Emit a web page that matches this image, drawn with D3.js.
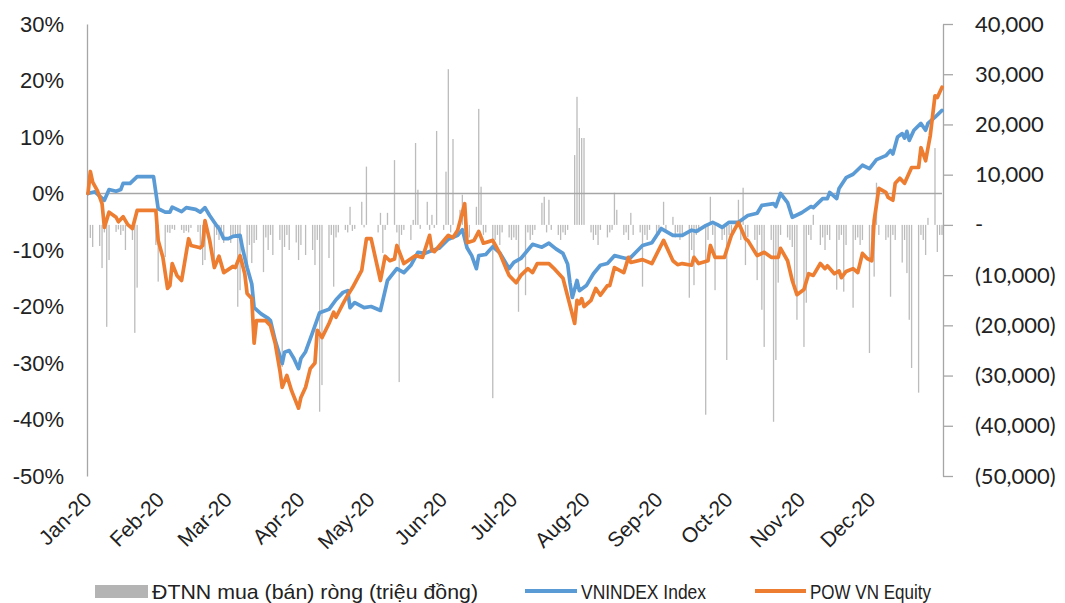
<!DOCTYPE html>
<html><head><meta charset="utf-8">
<script src="https://cdn.jsdelivr.net/npm/d3@7"></script>
<style>body{margin:0;background:#fff}svg{display:block}</style>
</head><body><svg id="c" width="1065" height="603"></svg>
<script>
// ---------------- DATA ----------------
const leftTicks = [-50,-40,-30,-20,-10,0,10,20,30];            // %
const rightTicks = [-50000,-40000,-30000,-20000,-10000,0,10000,20000,30000,40000];
const monthLabels = ["Jan-20","Feb-20","Mar-20","Apr-20","May-20","Jun-20","Jul-20","Aug-20","Sep-20","Oct-20","Nov-20","Dec-20"];
const seriesNames = ["ĐTNN mua (bán) ròng (triệu đồng)","VNINDEX Index","POW VN Equity"];

// VNINDEX Index, % change since start of year
const vnDates = ["01-01","01-04","01-08","01-10","01-13","01-15","01-16","01-19","01-22","01-29","01-31",
 "02-03","02-05","02-06","02-10","02-12","02-16","02-18","02-20","02-22","02-25","02-26","02-28",
 "03-01","03-03","03-06","03-07","03-09","03-11","03-12","03-15","03-18","03-19","03-21","03-24","03-25","03-27","03-29","03-31",
 "04-01","04-03","04-06","04-09","04-13","04-16","04-19","04-21","04-22","04-24","04-28",
 "05-01","05-05","05-08","05-12","05-15","05-18","05-21","05-24","05-27","05-30",
 "06-03","06-07","06-09","06-11","06-13","06-15","06-16","06-19","06-22","06-25","06-29",
 "07-01","07-04","07-09","07-13","07-16","07-19","07-22","07-24","07-25","07-26","07-28","07-29",
 "08-01","08-04","08-07","08-10","08-13","08-18","08-20","08-25","08-29",
 "09-02","09-07","09-11","09-15","09-17","09-21","09-24","09-26","09-28",
 "10-01","10-05","10-09","10-13","10-15","10-20","10-21","10-23","10-26","10-28",
 "11-01","11-05","11-06","11-10","11-12","11-13","11-16","11-17","11-20","11-23","11-27","11-30",
 "12-03","12-07","12-09","12-10","12-12","12-14","12-15","12-16","12-17","12-19","12-22","12-24","12-25","12-28","12-31"];
const vnValues = [0,0.3,-1.2,0.7,0.4,0.7,1.8,1.8,3.0,3.0,-2.7,
 -3.3,-3.3,-2.4,-3.2,-2.5,-2.8,-3.3,-2.5,-3.9,-5.7,-6.2,-8.0,
 -8.0,-7.6,-7.4,-9.6,-13.1,-16.0,-20.2,-21.3,-22.1,-22.5,-26.0,-30.1,-28.1,-27.8,-29.2,-31.0,
 -29.2,-28.0,-24.6,-21.1,-20.5,-18.8,-17.5,-17.2,-20.2,-19.3,-20.2,
 -20.0,-20.7,-15.4,-13.3,-14.0,-12.7,-10.4,-10.6,-10.1,-9.7,
 -8.1,-7.4,-6.4,-9.6,-11.0,-13.3,-11.0,-10.8,-9.4,-10.5,-13.3,
 -12.2,-11.5,-9.0,-9.5,-8.8,-9.8,-10.6,-12.5,-15.8,-18.4,-15.4,-17.2,
 -16.3,-14.2,-12.7,-12.4,-11.0,-11.5,-11.3,-9.2,-8.7,
 -6.2,-7.4,-7.4,-6.5,-6.7,-5.7,-5.1,-5.5,-6.0,
 -5.1,-5.1,-3.9,-3.5,-2.1,-1.8,-2.3,0.0,-1.6,-4.2,
 -3.4,-2.3,-2.5,-0.9,-0.9,0.2,-0.9,0.9,2.8,3.4,5.0,4.4,
 6.0,6.7,7.6,7.0,10.0,10.6,9.8,11.0,9.4,11.2,12.4,11.2,12.4,13.5,14.7];

// POW VN Equity, % change since start of year
const powDates = ["01-01","01-02","01-03","01-05","01-07","01-08","01-10","01-13","01-14","01-16","01-18","01-20","01-22","01-30","01-31",
 "02-02","02-04","02-05","02-06","02-08","02-10","02-13","02-14","02-18","02-19","02-20","02-22","02-24","02-26","02-28",
 "03-03","03-04","03-06","03-08","03-09","03-11","03-12","03-13","03-17","03-19","03-21","03-23","03-24","03-26","03-28","03-31",
 "04-01","04-03","04-05","04-07","04-08","04-10","04-13","04-15","04-16","04-19","04-21","04-23","04-27","04-29",
 "05-01","05-05","05-07","05-09","05-11","05-12","05-15","05-20","05-23","05-26","05-27","05-28",
 "06-03","06-05","06-07","06-10","06-11","06-14","06-16","06-18","06-22","06-25","06-28","06-29",
 "07-02","07-04","07-07","07-09","07-11","07-16","07-18","07-22","07-24","07-27","07-28","07-29","07-30","07-31",
 "08-03","08-05","08-07","08-10","08-11","08-13","08-17","08-19","08-20","08-25","08-29",
 "09-03","09-07","09-09","09-11","09-15","09-16","09-18","09-22","09-23","09-25","09-29","09-30",
 "10-02","10-05","10-08","10-09","10-13","10-16","10-19","10-22","10-23","10-26","10-28","10-30",
 "11-02","11-04","11-06","11-09","11-11","11-12","11-15","11-17","11-18","11-20","11-23","11-25","11-27","11-29",
 "12-01","12-02","12-04","12-07","12-08","12-10","12-11","12-13","12-15","12-18","12-21","12-22","12-24","12-26","12-28","12-29","12-31"];
const powValues = [0,3.9,2.0,0.5,-1.8,-6.0,-3.3,-4.2,-5.0,-4.1,-5.5,-6.2,-3.0,-3.0,-8.3,
 -11.3,-16.8,-16.3,-12.4,-14.5,-15.4,-8.0,-9.2,-9.6,-9.2,-4.8,-8.3,-13.1,-11.1,-14.0,
 -12.9,-13.1,-11.0,-14.2,-17.7,-18.6,-26.5,-22.5,-22.5,-23.4,-26.5,-31.3,-34.3,-32.2,-34.9,-38.0,
 -36.1,-34.3,-31.0,-30.0,-24.2,-25.5,-23.0,-21.0,-21.9,-19.5,-18.0,-16.7,-13.6,-8.0,
 -8.0,-15.4,-11.1,-11.9,-11.6,-9.2,-12.4,-11.0,-11.3,-7.4,-10.1,-10.3,
 -7.4,-7.8,-6.5,-1.8,-8.7,-8.3,-6.7,-8.8,-8.3,-10.6,-13.6,-14.5,
 -15.8,-14.5,-13.3,-14.0,-12.4,-12.4,-13.2,-15.0,-18.2,-23.0,-18.9,-19.5,-18.6,-20.0,
 -18.9,-16.8,-18.0,-16.3,-16.3,-13.1,-14.0,-11.3,-12.2,-11.7,-12.4,
 -8.3,-11.9,-12.6,-12.4,-12.7,-11.3,-12.4,-11.9,-9.2,-11.3,-11.3,-10.0,
 -7.4,-5.1,-8.0,-8.3,-11.0,-10.4,-11.3,-11.3,-9.7,-11.9,-15.4,-17.9,
 -17.0,-14.2,-14.5,-12.4,-13.3,-12.8,-14.2,-13.7,-14.9,-13.8,-13.3,-14.0,-10.6,-11.5,
 -11.9,-4.8,0.9,0.2,-0.7,-1.2,1.8,2.7,1.8,4.6,4.6,8.1,5.8,10.3,17.3,17.0,18.8];

// Foreign net buy (sell), million VND — trading days per month (day of month) and values
const flowDays = [
 [2,3,6,7,8,9,10,13,14,15,16,17,20,21,22,30,31],
 [3,4,5,6,7,10,11,12,13,14,17,18,19,20,21,24,25,26,27,28],
 [2,3,4,5,6,9,10,11,12,13,16,17,18,19,20,23,24,25,26,27,30,31],
 [1,3,6,7,8,9,10,13,14,15,16,17,20,21,22,23,24,27,28,29],
 [4,5,6,7,8,11,12,13,14,15,18,19,20,21,22,25,26,27,28,29],
 [1,2,3,4,5,8,9,10,11,12,15,16,17,18,19,22,23,24,25,26,29,30],
 [1,2,3,6,7,8,9,10,13,14,15,16,17,20,21,22,23,24,27,28,29,30,31],
 [3,4,5,6,7,10,11,12,13,14,17,18,19,20,21,24,25,26,27,28,31],
 [1,3,4,7,8,9,10,11,14,15,16,17,18,21,22,23,24,25,28,29,30],
 [1,2,5,6,7,8,9,12,13,14,15,16,19,20,21,22,23,26,27,28,29,30],
 [2,3,4,5,6,9,10,11,12,13,16,17,18,19,20,23,24,25,26,27,30],
 [1,2,3,4,7,8,9,10,11,14,15,16,17,18,21,22,23,24,25,28,29,30,31]];
const flowValues = [
 [-2600,-4400,-4200,-8600,-1500,-20300,-7000,-1400,-900,-2000,-1200,-5000,-3000,-21500,-12500,-4000,-11300],
 [-6400,-1500,-1600,-800,-1000,-1000,-1600,-1200,-1500,-600,-1400,-5000,-8000,-7000,-1500,-8400,-2000,-3000,-1000,-3600],
 [-3600,-2000,-2500,-16300,-13000,-9000,-4000,-7600,-3600,-3000,-9400,-2500,-5000,-2000,-6000,-3000,-28300,-4400,-2000,-5000,-3500,-7000],
 [-4000,-6000,-5000,-8000,-3000,-37200,-31900,-6600,-2000,-12300,-2500,-1500,-1000,-1500,3600,-1200,-800,4600,-500,11600],
 [-1500,2400,-5600,-1000,2400,12900,-1500,-31300,-2000,-1000,-3000,1000,16300,7000,-800,4600,-1000,2000,-600,18700],
 [-1000,10600,31000,-1500,17100,3000,6000,-1200,-2000,-2500,3600,23100,7600,-2000,-1500,-34500,-3000,-2000,-4000,-1500,-2500,-3000],
 [-2500,-3000,-17300,-14000,-1500,-3000,-2000,-1000,4400,5600,-1500,5000,-1000,-2000,-3000,-1500,-2000,-1000,13900,25500,19300,17300,17300],
 [-1500,-3000,-2000,-4000,-1000,-2500,-1500,-1000,6400,3000,-2000,-1500,-3000,2400,-2000,-1500,-12300,-2000,-3000,-1000,-2500],
 [-2000,4600,-1500,1600,-2500,-1500,-3000,-2000,-14500,-5000,-12000,-2000,-1500,-37800,-3000,5600,-2000,-13000,-3000,-2000,-26900],
 [-2000,-1500,5000,-3000,7400,-8000,-2500,-3000,-11000,-2000,-16900,-24300,-3000,-39200,-26900,-11500,-2000,-2500,-3000,-4400,-11500,-18900],
 [-24300,-15500,-2000,-3000,2000,-4000,-2500,-5000,-2000,-3000,-12900,-3000,-2000,-13300,-4000,-16500,-3000,-2500,-4000,-3000,-25500],
 [-3000,-10300,8400,-2000,-3000,-2500,-14300,-2000,-3000,-7500,-3000,-9600,-18900,-28500,-33400,-2000,-3000,-6000,1400,15300,-5400,-2000,-2000]];

// ---------------- CHART ----------------
const svg = d3.select("#c");
const parse = d3.timeParse("%Y-%m-%d");
const toDate = s => parse("2020-" + s);

const x = d3.scaleTime().domain([new Date(2020,0,1), new Date(2020,11,31)]).range([88, 942]);
const yL = d3.scaleLinear().domain([-50, 30]).range([476, 24]);
const yR = d3.scaleLinear().domain([-50000, 40000]).range([476, 24]);

const bars = [];
flowDays.forEach((days, m) => days.forEach((d, i) => bars.push({date: new Date(2020, m, d), v: flowValues[m][i]})));
const vn = vnDates.map((d, i) => ({date: toDate(d), v: vnValues[i]}));
const pow = powDates.map((d, i) => ({date: toDate(d), v: powValues[i]}));

const textCol = "#222222";
const axisCol = "#a6a6a6";
const arial = "'Liberation Sans', Arial, sans-serif";

// bars
svg.append("g").selectAll("rect").data(bars).join("rect")
  .attr("x", d => x(d.date) - 0.65)
  .attr("width", 1.3)
  .attr("y", d => Math.min(yR(d.v), yR(0)))
  .attr("height", d => Math.abs(yR(d.v) - yR(0)))
  .attr("fill", "#bcbcbc");

// zero line
svg.append("line").attr("x1", 88).attr("x2", 942).attr("y1", yL(0)).attr("y2", yL(0))
  .attr("stroke", axisCol).attr("stroke-width", 1.3);

// left axis
const gL = svg.append("g").attr("transform", "translate(87,0)")
  .call(d3.axisLeft(yL).tickValues(leftTicks).tickFormat(d => d + "%").tickSize(0).tickPadding(23));
gL.select(".domain").attr("stroke", axisCol).attr("stroke-width", 1.3);
gL.selectAll("text").attr("font-family", arial).attr("font-size", 22).attr("fill", textCol);

// right axis
const fmtR = v => v === 0 ? "-" : (v < 0 ? "(" + d3.format(",")(-v) + ")" : d3.format(",")(v));
const gR = svg.append("g").attr("transform", "translate(943,0)")
  .call(d3.axisRight(yR).tickValues(rightTicks).tickFormat(fmtR).tickSizeInner(10).tickSizeOuter(0).tickPadding(22));
gR.select(".domain").attr("stroke", axisCol).attr("stroke-width", 1.3);
gR.selectAll(".tick line").attr("stroke", axisCol).attr("stroke-width", 1.3);
gR.selectAll("text").attr("font-family", "Lato, 'Open Sans', sans-serif").attr("font-size", 22).attr("fill", textCol);

// x labels
const months = d3.range(12).map(m => new Date(2020, m, 1));
svg.append("g").selectAll("text").data(months).join("text")
  .attr("transform", d => `translate(${x(d) + 5},501) rotate(-45)`)
  .attr("text-anchor", "end")
  .attr("font-family", arial)
  .attr("font-size", 21).attr("fill", textCol)
  .text((d, i) => monthLabels[i]);

// lines
const line = d3.line().x(d => x(d.date)).y(d => yL(d.v)).curve(d3.curveLinear);
svg.append("path").datum(vn).attr("d", line).attr("fill", "none")
  .attr("stroke", "#5b9bd5").attr("stroke-width", 3.7).attr("stroke-linejoin", "round").attr("stroke-linecap", "round");
svg.append("path").datum(pow).attr("d", line).attr("fill", "none")
  .attr("stroke", "#ed7d31").attr("stroke-width", 3.7).attr("stroke-linejoin", "round").attr("stroke-linecap", "round");

// legend
const lg = svg.append("g").attr("font-family", arial).attr("font-size", 21).attr("fill", textCol);
lg.append("rect").attr("x", 95).attr("y", 585).attr("width", 53).attr("height", 13).attr("fill", "#b4b4b4");
lg.append("text").attr("x", 152).attr("y", 599).attr("textLength", 326).attr("lengthAdjust", "spacingAndGlyphs").text(seriesNames[0]);
lg.append("line").attr("x1", 525).attr("x2", 577).attr("y1", 591).attr("y2", 591).attr("stroke", "#5b9bd5").attr("stroke-width", 4);
lg.append("text").attr("x", 581).attr("y", 599).attr("textLength", 125).attr("lengthAdjust", "spacingAndGlyphs").text(seriesNames[1]);
lg.append("line").attr("x1", 755).attr("x2", 806).attr("y1", 591).attr("y2", 591).attr("stroke", "#ed7d31").attr("stroke-width", 4);
lg.append("text").attr("x", 810).attr("y", 599).attr("textLength", 121).attr("lengthAdjust", "spacingAndGlyphs").text(seriesNames[2]);
</script>
</body></html>
